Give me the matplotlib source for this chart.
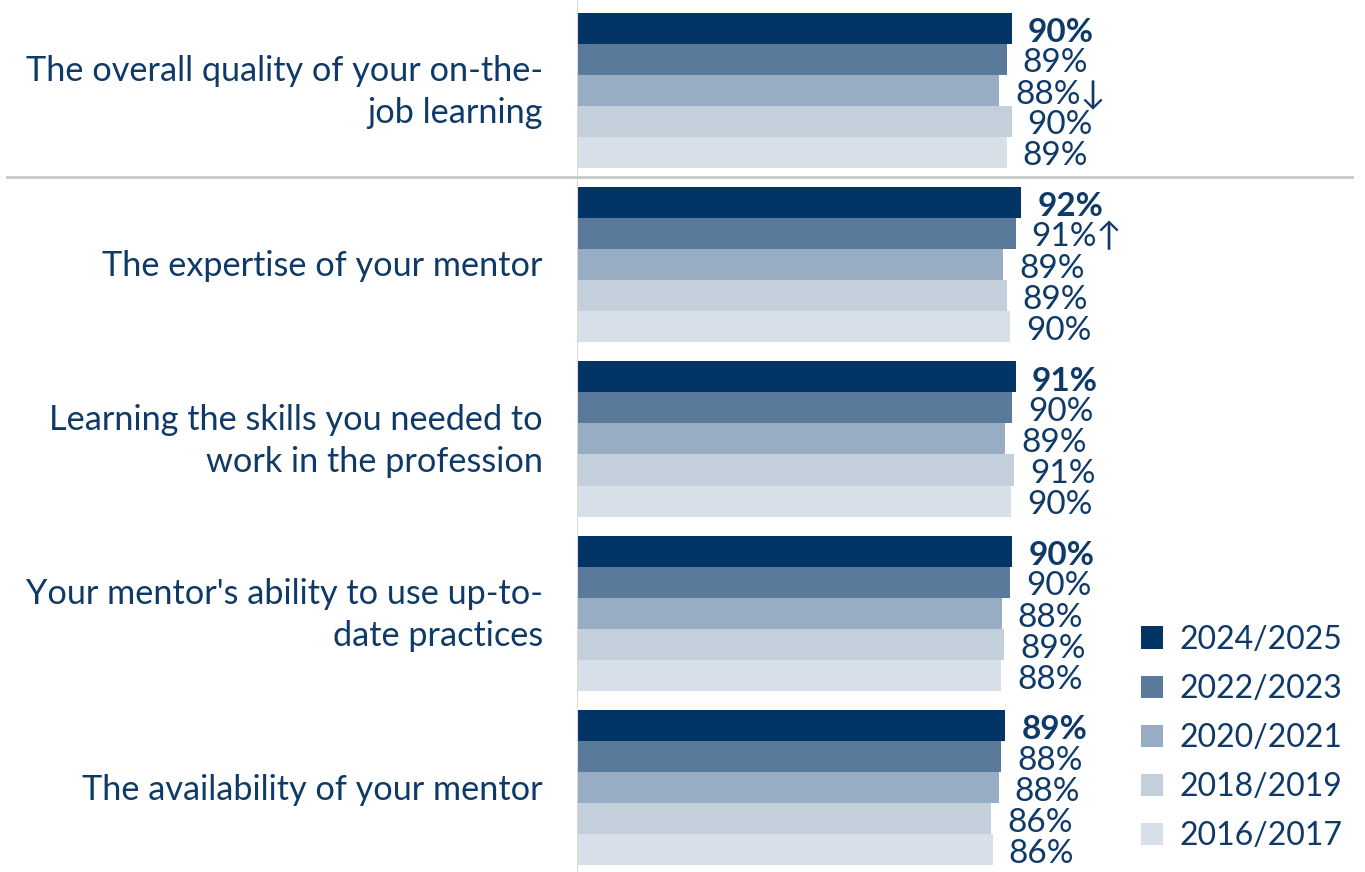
import matplotlib
matplotlib.use("Agg")
import matplotlib.pyplot as plt
from matplotlib.patches import Patch

categories = [
    "The overall quality of your on-the-\njob learning",
    "The expertise of your mentor",
    "Learning the skills you needed to\nwork in the profession",
    "Your mentor's ability to use up-to-\ndate practices",
    "The availability of your mentor",
]
years = ["2024/2025", "2022/2023", "2020/2021", "2018/2019", "2016/2017"]
v2024 = [90.0, 92.0, 90.8, 90.1, 88.7]
v2022 = [89.0, 90.8, 90.1, 89.7, 87.8]
v2020 = [87.4, 88.3, 88.7, 87.9, 87.3]
v2018 = [90.0, 89.0, 90.5, 88.5, 85.8]
v2016 = [89.0, 89.7, 89.9, 87.8, 86.1]
labels2024 = ["90%", "92%", "91%", "90%", "89%"]
labels2022 = ["89%", "91%↑", "90%", "90%", "88%"]
labels2020 = ["88%↓", "89%", "89%", "88%", "88%"]
labels2018 = ["90%", "89%", "91%", "89%", "86%"]
labels2016 = ["89%", "90%", "90%", "88%", "86%"]

series = [v2024, v2022, v2020, v2018, v2016]
labels = [labels2024, labels2022, labels2020, labels2018, labels2016]
colors = ["#033466", "#5a7a9c", "#98adc3", "#c3cfdb", "#d7dfe8"]
text_color = "#0f3a68"
FONT = ["Lato", "DejaVu Sans"]
plt.rcParams["font.family"] = FONT

fig = plt.figure(figsize=(13.65, 8.72), dpi=100)
ax = fig.add_axes([577 / 1365, 0, 1 - 577 / 1365, 1])
ax.set_xlim(0, (1365 - 577) / 4.83)
ax.set_ylim(4.5 - 0.017, -0.5 - 0.017)

bh = 0.178
for j, (vals, labs, col) in enumerate(zip(series, labels, colors)):
    for i, (v, lab) in enumerate(zip(vals, labs)):
        y = i + (j - 2) * bh
        ax.barh(y, v, height=bh, color=col, edgecolor="none")
        ax.annotate(lab, (v, y), xytext=(11.5, -3), textcoords="offset points",
                    ha="left", va="center", fontsize=24, color=text_color,
                    fontweight="bold" if j == 0 else "normal", family=FONT)

for i, cat in enumerate(categories):
    ax.text(-34 / 4.83, i + 0.01, cat, ha="right", va="center", fontsize=24.7,
            color=text_color, linespacing=1.4)

for s in ax.spines.values():
    s.set_visible(False)
ax.set_xticks([])
ax.set_yticks([])
ax.axvline(0, color="#d9d9d9", lw=1.5)
fig.add_artist(plt.Line2D([7 / 1365, 1352 / 1365], [1 - 177.5 / 872] * 2,
                          color="#c8c8c8", lw=2, transform=fig.transFigure))

handles = [Patch(facecolor=c, edgecolor="none") for c in colors]
leg = fig.legend(handles, years, loc="upper left", bbox_to_anchor=(1128 / 1365, 1 - 612 / 872),
                 frameon=False, fontsize=23, handlelength=0.7, handleheight=0.7,
                 handletextpad=0.5, labelspacing=0.6, labelcolor=text_color,
                 borderaxespad=0, borderpad=0.4)

fig.savefig("out.png", dpi=100)
